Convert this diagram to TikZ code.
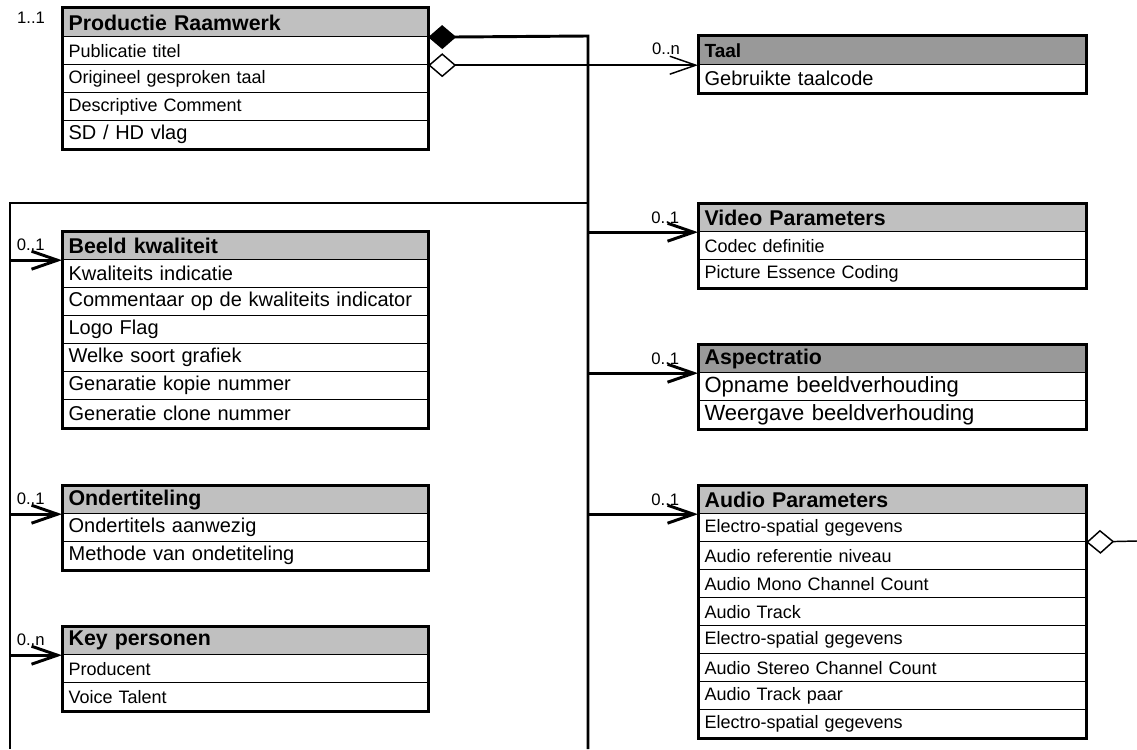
\documentclass[tikz,border=0pt]{standalone}
\usepackage{fontspec}
\setmainfont{Liberation Sans}
\usepackage{xcolor}
\usetikzlibrary{arrows.meta}
\definecolor{hdrLight}{RGB}{192,192,192}
\definecolor{hdrDark}{RGB}{153,153,153}

\begin{document}
\begin{tikzpicture}[x=0.75pt,y=0.75pt,yscale=-1,
  head/.style={draw,line width=0.9pt,fill=hdrLight,anchor=north west,minimum height=21pt,inner xsep=4.5pt,inner ysep=0pt,align=left,font=\fontsize{16}{18}\selectfont\bfseries},
  row/.style={draw,line width=0.9pt,anchor=north west,minimum height=21pt,inner xsep=4.5pt,inner ysep=0pt,align=left},
  wideL/.style={text width=264.75pt},
  wideR/.style={text width=281.25pt},
  txtS/.style={font=\fontsize{13.5}{15}\selectfont},
  txtM/.style={font=\fontsize{15}{17}\selectfont},
  txtL/.style={font=\fontsize{16.5}{18}\selectfont},
  outline/.style={line width=2.25pt},
  conn/.style={line width=2.2pt},
  thinconn/.style={line width=1.1pt},
  barb/.style={-{Straight Barb[length=19.5pt,width=13.5pt]}},
  mult/.style={font=\fontsize{12.5}{14}\selectfont,inner sep=1pt}]
\useasboundingbox (0,0) rectangle (1137,749);

%Rect Productie Raamwerk
\node[head,wideL] (prHead) at (62,8) {Productie Raamwerk};
\node[row,wideL,txtS] (pr1) at (62,36) {Publicatie titel};
\node[row,wideL,txtS] (pr2) at (62,64) {Origineel gesproken taal};
\node[row,wideL,txtS] (pr3) at (62,92) {Descriptive Comment};
\node[row,wideL,txtM] (pr4) at (62,120) {SD / HD vlag};
\draw[outline] (prHead.north west) rectangle (pr4.south east);
% Text Node
\node[mult] (prMult) at (31,18) {1..1};

%Rect Taal
\node[head,wideR,fill=hdrDark,font=\fontsize{14.25}{16}\selectfont\bfseries] (taHead) at (698,36) {Taal};
\node[row,wideR,txtM] (ta1) at (698,64) {Gebruikte taalcode};
\draw[outline] (taHead.north west) rectangle (ta1.south east);

%Rect Beeld kwaliteit
\node[head,wideL] (bkHead) at (62,231) {Beeld kwaliteit};
\node[row,wideL,txtM] (bk1) at (62,259) {Kwaliteits indicatie};
\node[row,wideL,txtM] (bk2) at (62,287) {Commentaar op de kwaliteits indicator};
\node[row,wideL,txtM] (bk3) at (62,315) {Logo Flag};
\node[row,wideL,txtM] (bk4) at (62,343) {Welke soort grafiek};
\node[row,wideL,txtM] (bk5) at (62,371) {Genaratie kopie nummer};
\node[row,wideL,txtM] (bk6) at (62,399) {Generatie clone nummer};
\draw[outline] (bkHead.north west) rectangle (bk6.south east);

%Rect Ondertiteling
\node[head,wideL] (otHead) at (62,485) {Ondertiteling};
\node[row,wideL,txtM] (ot1) at (62,513) {Ondertitels aanwezig};
\node[row,wideL,txtM] (ot2) at (62,541) {Methode van ondetiteling};
\draw[outline] (otHead.north west) rectangle (ot2.south east);

%Rect Key personen
\node[head,wideL] (kpHead) at (62,626) {Key personen};
\node[row,wideL,txtS] (kp1) at (62,654) {Producent};
\node[row,wideL,txtS] (kp2) at (62,682) {Voice Talent};
\draw[outline] (kpHead.north west) rectangle (kp2.south east);

%Rect Video Parameters
\node[head,wideR] (vpHead) at (698,203) {Video Parameters};
\node[row,wideR,txtS] (vp1) at (698,231) {Codec definitie};
\node[row,wideR,txtS] (vp2) at (698,259) {Picture Essence Coding};
\draw[outline] (vpHead.north west) rectangle (vp2.south east);

%Rect Aspectratio
\node[head,wideR,fill=hdrDark] (arHead) at (698,344) {Aspectratio};
\node[row,wideR,txtL] (ar1) at (698,372) {Opname beeldverhouding};
\node[row,wideR,txtL] (ar2) at (698,400) {Weergave beeldverhouding};
\draw[outline] (arHead.north west) rectangle (ar2.south east);

%Rect Audio Parameters
\node[head,wideR] (apHead) at (698,485) {Audio Parameters};
\node[row,wideR,txtS] (ap1) at (698,513) {Electro-spatial gegevens};
\node[row,wideR,txtS] (ap2) at (698,541) {Audio referentie niveau};
\node[row,wideR,txtS] (ap3) at (698,569) {Audio Mono Channel Count};
\node[row,wideR,txtS] (ap4) at (698,597) {Audio Track};
\node[row,wideR,txtS] (ap5) at (698,625) {Electro-spatial gegevens};
\node[row,wideR,txtS] (ap6) at (698,653) {Audio Stereo Channel Count};
\node[row,wideR,txtS] (ap7) at (698,681) {Audio Track paar};
\node[row,wideR,txtS] (ap8) at (698,709) {Electro-spatial gegevens};
\draw[outline] (apHead.north west) rectangle (ap8.south east);

\coordinate (trunkTop) at (588,36);
\coordinate (trunkEnd) at (588,749);
\coordinate (leftTop) at (10,203);
\coordinate (leftEnd) at (10,749);
\coordinate (audioEnd) at (1137,541);

%Straight Lines
\draw[conn,{Diamond[length=21pt,width=18pt]}-] (prHead.south east) -- (trunkTop) -- (trunkEnd);
\draw[thinconn,{Diamond[open,length=21pt,width=18pt]}-{Straight Barb[length=19.5pt,width=13.5pt]}] (pr1.south east) -- node[mult,at end,above left,xshift=-12pt,yshift=6pt] {0..n} (taHead.south west);
\draw[conn] (trunkTop |- leftTop) -- (leftTop) -- (leftEnd);
\draw[thinconn,{Diamond[open,length=21pt,width=18pt]}-] (ap1.south east) -- (audioEnd);

%Straight Lines
\draw[conn,barb] (leftTop |- bkHead.south west) -- node[mult,at start,above right,xshift=3pt,yshift=5pt] {0..1} (bkHead.south west);
\draw[conn,barb] (leftTop |- otHead.south west) -- node[mult,at start,above right,xshift=3pt,yshift=5pt] {0..1} (otHead.south west);
\draw[conn,barb] (leftTop |- kpHead.south west) -- node[mult,at start,above right,xshift=3pt,yshift=5pt] {0..n} (kpHead.south west);
\draw[conn,barb] (trunkTop |- vpHead.south west) -- node[mult,at end,above left,xshift=-12pt,yshift=4pt] {0..1} (vpHead.south west);
\draw[conn,barb] (trunkTop |- arHead.south west) -- node[mult,at end,above left,xshift=-12pt,yshift=4pt] {0..1} (arHead.south west);
\draw[conn,barb] (trunkTop |- apHead.south west) -- node[mult,at end,above left,xshift=-12pt,yshift=4pt] {0..1} (apHead.south west);

\end{tikzpicture}
\end{document}
